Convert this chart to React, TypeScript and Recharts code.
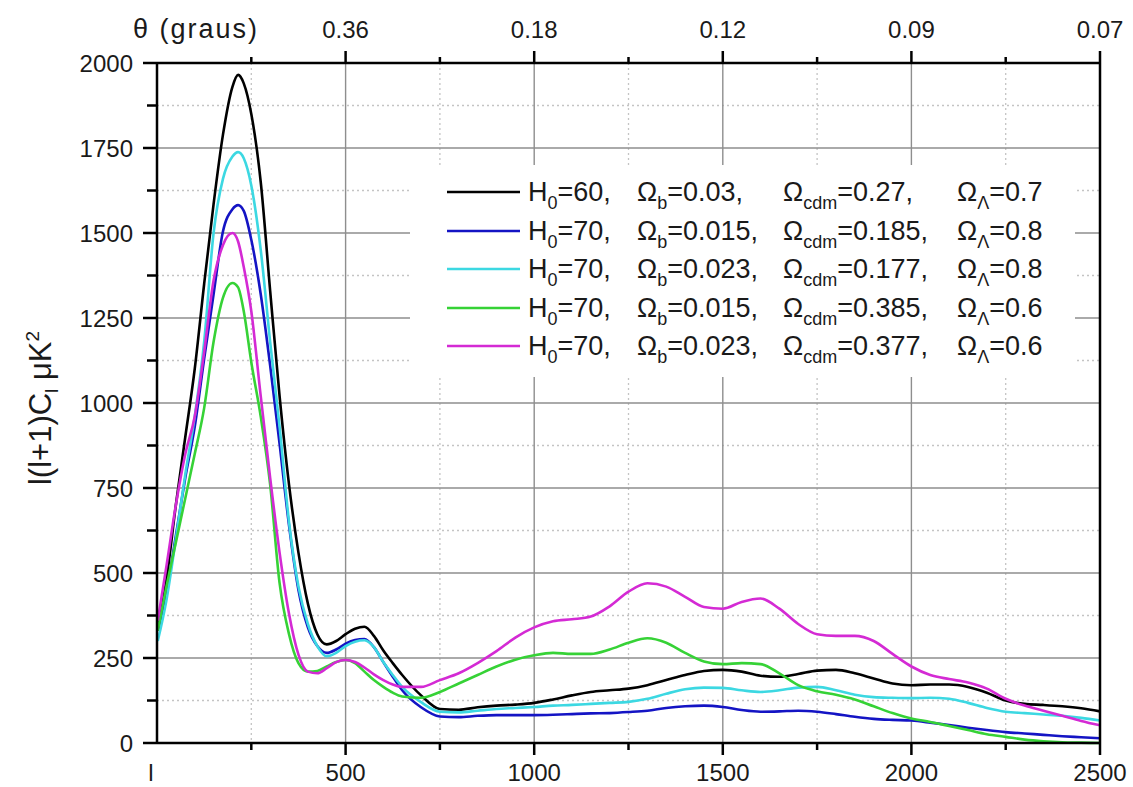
import React from 'react';
import { LineChart, Line, XAxis, YAxis, CartesianGrid, Legend } from 'recharts';

// multipole l and the five spectra l(l+1)C_l in µK^2
const ELL = [
  2, 25, 50, 75, 100, 125, 150, 175, 200, 215, 230,
  250, 275, 300, 325, 350, 375, 400, 425, 450, 475, 500, 525, 550, 575, 600, 625, 650,
  700, 750, 800, 850, 900, 950, 1000, 1050, 1100, 1150, 1200, 1250, 1300, 1350, 1400, 1450,
  1500, 1550, 1600, 1650, 1700, 1750, 1800, 1850, 1900, 1950, 2000, 2050, 2100, 2150, 2200,
  2250, 2300, 2350, 2400, 2450, 2500,
];

const CL_H60 = [
  330, 480, 700, 900, 1100, 1350, 1585, 1790, 1930, 1965, 1940,
  1850, 1650, 1330, 1020, 760, 560, 410, 320, 290, 300, 320, 336, 342, 315, 272, 235, 200,
  140, 100, 98, 105, 110, 113, 118, 128, 140, 150, 155, 160, 170, 185, 200, 212,
  215, 210, 198, 195, 203, 213, 215, 205, 190, 175, 170, 172, 172, 165, 148,
  125, 115, 112, 108, 102, 93,
];

const CL_B015_L08 = [
  330, 440, 610, 780, 930, 1130, 1320, 1505, 1570, 1582, 1565,
  1480, 1320, 1110, 880, 640, 450, 340, 285, 265, 275, 292, 303, 306, 282, 238, 195, 155,
  105, 78, 76, 80, 82, 82, 82, 83, 85, 87, 88, 91, 95, 103, 108, 110,
  106, 97, 92, 93, 95, 92, 85, 77, 71, 68, 66, 60, 53, 45, 38,
  32, 28, 24, 20, 17, 14,
];

const CL_B023_L08 = [
  300, 420, 600, 790, 960, 1180, 1500, 1660, 1725, 1738, 1720,
  1640, 1450, 1180, 930, 650, 460, 350, 285, 255, 265, 285, 298, 302, 282, 238, 200, 165,
  120, 92, 90, 95, 100, 103, 106, 110, 112, 115, 118, 121, 130, 145, 158, 163,
  162, 155, 150, 155, 163, 165, 155, 142, 135, 133, 132, 133, 130, 118, 103,
  92, 88, 84, 80, 74, 66,
];

const CL_B015_L06 = [
  330, 460, 590, 720, 850, 985, 1180, 1310, 1353, 1340, 1270,
  1120, 960, 760, 470, 320, 235, 210, 212, 225, 238, 244, 235, 210, 185, 165, 148, 137,
  133, 150, 175, 200, 225, 245, 258, 265, 262, 262, 275, 295, 308, 295, 265, 240,
  232, 235, 232, 205, 170, 152, 142, 128, 108, 88, 72, 62, 50, 38, 26,
  18, 10, 5, 2, 1, 0,
];

const CL_B023_L06 = [
  360, 520, 700, 850, 960, 1150, 1360, 1465, 1500, 1475, 1400,
  1270, 1020, 780, 560, 380, 260, 210, 205, 220, 238, 244, 238, 222, 202, 185, 172, 165,
  165, 185, 205, 235, 270, 310, 340, 358, 364, 372, 402, 445, 470, 460, 430, 400,
  395, 415, 425, 395, 350, 320, 315, 315, 300, 262, 225, 200, 188, 178, 160,
  130, 110, 95, 80, 65, 52,
];

// legend parameters, in series order
const H0 = ['60', '70', '70', '70', '70'];
const OMEGA_B = ['0.03', '0.015', '0.023', '0.015', '0.023'];
const OMEGA_CDM = ['0.27', '0.185', '0.177', '0.385', '0.377'];
const OMEGA_L = ['0.7', '0.8', '0.8', '0.6', '0.6'];
const COLORS = ['#000000', '#1414c4', '#3cd8e2', '#36d236', '#d42ad4'];
const KEYS = ['s1', 's2', 's3', 's4', 's5'];

// axes
const X_TICKS = [0, 250, 500, 750, 1000, 1250, 1500, 1750, 2000, 2250, 2500];
const Y_TICKS = [0, 125, 250, 375, 500, 625, 750, 875, 1000, 1125, 1250, 1375, 1500, 1625, 1750, 1875, 2000];
const X_MAJOR = [500, 1000, 1500, 2000];
const X_MINOR = [250, 750, 1250, 1750, 2250];
const Y_MAJOR = [250, 500, 750, 1000, 1250, 1500, 1750];
const Y_MINOR = [125, 375, 625, 875, 1125, 1375, 1625, 1875];
const THETA: Record<number, string> = { 500: '0.36', 1000: '0.18', 1500: '0.12', 2000: '0.09', 2500: '0.07' };

const FONT = '"Liberation Sans", Arial, Helvetica, sans-serif';
const INK = '#1a1a1a';

const data = ELL.map((l, i) => ({
  l,
  s1: CL_H60[i],
  s2: CL_B015_L08[i],
  s3: CL_B023_L08[i],
  s4: CL_B015_L06[i],
  s5: CL_B023_L06[i],
}));

function BottomTick({ x, y, payload }: any) {
  const v = payload.value;
  const major = v % 500 === 0;
  return (
    <g>
      {v !== 0 && <line x1={x} y1={y} x2={x} y2={y + (major ? 12 : 7)} stroke="#000" strokeWidth={2.5} />}
      {major && (
        <text x={v === 0 ? x - 6 : x} y={y + 38} textAnchor="middle" fontSize={24} fontFamily={FONT} fill={INK}>
          {v === 0 ? 'l' : v}
        </text>
      )}
    </g>
  );
}

function TopTick({ x, y, payload }: any) {
  const v = payload.value;
  const major = v % 500 === 0;
  if (v === 0) {
    return (
      <text x={x - 24} y={y - 25} fontSize={27} fontFamily={FONT} fill={INK} textLength={124} lengthAdjust="spacing">
        θ (graus)
      </text>
    );
  }
  return (
    <g>
      <line x1={x} y1={y} x2={x} y2={y - (major ? 12 : 6)} stroke="#000" strokeWidth={2.5} />
      {THETA[v] && (
        <text x={x} y={y - 25} textAnchor="middle" fontSize={24} fontFamily={FONT} fill={INK}>
          {THETA[v]}
        </text>
      )}
    </g>
  );
}

function LeftTick({ x, y, payload }: any) {
  const v = payload.value;
  const major = v % 250 === 0;
  return (
    <g>
      <line x1={x - (major ? 14 : 10)} y1={y} x2={x} y2={y} stroke="#000" strokeWidth={2.5} />
      {major && (
        <text x={x - 24} y={y + 8.5} textAnchor="end" fontSize={24} fontFamily={FONT} fill={INK}>
          {v}
        </text>
      )}
    </g>
  );
}

function RightTick({ x, y }: any) {
  return <line x1={x - 11} y1={y} x2={x} y2={y} stroke="#000" strokeWidth={2.5} />;
}

const Sub = ({ children }: any) => (
  <span style={{ fontSize: 18, position: 'relative', top: 8 }}>{children}</span>
);

function LegendBox({ payload }: any) {
  const rows = [...(payload || [])].sort((a: any, b: any) => KEYS.indexOf(a.dataKey) - KEYS.indexOf(b.dataKey));
  return (
    <div style={{ position: 'relative', width: 665, height: 212, background: '#fff', fontFamily: FONT, fontSize: 27, color: INK }}>
      {rows.map((entry: any) => {
        const i = KEYS.indexOf(entry.dataKey);
        return (
          <div key={entry.dataKey} style={{ position: 'absolute', left: 0, top: 8 + i * 38.5, width: '100%', height: 38 }}>
            <svg style={{ position: 'absolute', left: 37, top: 0 }} width={74} height={38}>
              <line x1={0} y1={19} x2={73} y2={19} stroke={COLORS[i]} strokeWidth={2.5} />
            </svg>
            <span style={{ position: 'absolute', left: 118, top: 4, lineHeight: '30px', whiteSpace: 'nowrap' }}>
              H<Sub>0</Sub>={H0[i]},
            </span>
            <span style={{ position: 'absolute', left: 227, top: 4, lineHeight: '30px', whiteSpace: 'nowrap' }}>
              Ω<Sub>b</Sub>={OMEGA_B[i]},
            </span>
            <span style={{ position: 'absolute', left: 373, top: 4, lineHeight: '30px', whiteSpace: 'nowrap' }}>
              Ω<Sub>cdm</Sub>={OMEGA_CDM[i]},
            </span>
            <span style={{ position: 'absolute', left: 547, top: 4, lineHeight: '30px', whiteSpace: 'nowrap' }}>
              Ω<Sub>Λ</Sub>={OMEGA_L[i]}
            </span>
          </div>
        );
      })}
    </div>
  );
}

export default function App() {
  return (
    <div style={{ position: 'absolute', left: 0, top: 0, width: 1133, height: 787, background: '#fff' }}>
      <LineChart width={1133} height={787} data={data} margin={{ top: 33, right: 13, bottom: 14, left: 87 }}>
        <CartesianGrid xAxisId="bottom" yAxisId="left" verticalValues={X_MINOR} horizontalValues={Y_MINOR}
          stroke="#c4c4c4" strokeDasharray="2 3" strokeWidth={1.3} />
        <CartesianGrid xAxisId="bottom" yAxisId="left" verticalValues={X_MAJOR} horizontalValues={Y_MAJOR}
          stroke="#8e8e8e" strokeWidth={1.4} />
        <XAxis xAxisId="bottom" dataKey="l" type="number" domain={[0, 2500]} ticks={X_TICKS} interval={0}
          height={30} tickSize={0} tickMargin={0} tickLine={false} tick={<BottomTick />}
          axisLine={{ stroke: '#000', strokeWidth: 2.5 }} />
        <XAxis xAxisId="top" dataKey="l" orientation="top" type="number" domain={[0, 2500]} ticks={X_TICKS} interval={0}
          height={30} tickSize={0} tickMargin={0} tickLine={false} tick={<TopTick />}
          axisLine={{ stroke: '#000', strokeWidth: 2.5 }} />
        <YAxis yAxisId="left" type="number" domain={[0, 2000]} ticks={Y_TICKS} interval={0}
          width={70} tickSize={0} tickMargin={0} tickLine={false} tick={<LeftTick />}
          axisLine={{ stroke: '#000', strokeWidth: 2.5 }} />
        <YAxis yAxisId="right" orientation="right" type="number" domain={[0, 2000]} ticks={Y_TICKS} interval={0}
          width={20} tickSize={0} tickMargin={0} tickLine={false} tick={<RightTick />}
          axisLine={{ stroke: '#000', strokeWidth: 2.5 }} />
        {KEYS.map((k, i) => (
          <Line key={k} xAxisId="bottom" yAxisId="left" dataKey={k} type="monotone" stroke={COLORS[i]}
            strokeWidth={2.6} dot={false} activeDot={false} isAnimationActive={false} />
        ))}
        <Legend layout="vertical" align="center" verticalAlign="middle" content={<LegendBox />}
          wrapperStyle={{ left: 410, top: 165, width: 665, height: 212 }} />
        <text transform="rotate(-90, 51, 408)" x={51} y={408} textAnchor="middle" fontSize={31}
          fontFamily={FONT} fill={INK}>
          l(l+1)C<tspan dy={7} fontSize={19}>l</tspan>
          <tspan dy={-7}>{'  '}μK</tspan>
          <tspan dy={-12} fontSize={19}>2</tspan>
        </text>
      </LineChart>
    </div>
  );
}
